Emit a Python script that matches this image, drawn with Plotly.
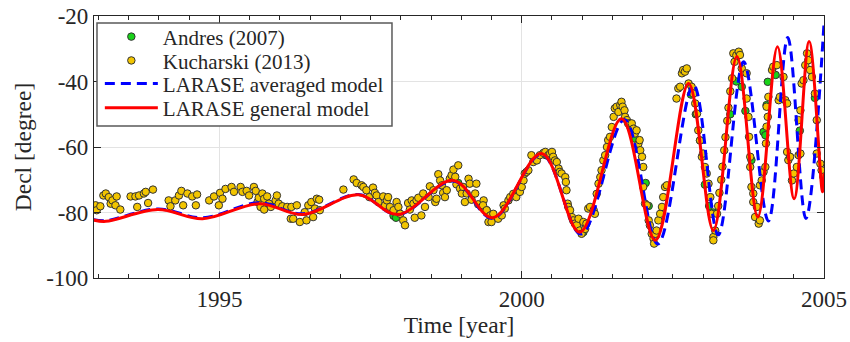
import plotly.graph_objects as go

# ---------------- data ----------------
# LARASE general model (red) - key points (year, Decl)
gen_t = [1992.92, 1993.12, 1993.98, 1994.72, 1995.66, 1996.38, 1997.30, 1997.95,
         1998.87, 1999.52, 2000.33, 2000.96, 2001.65, 2002.21, 2002.76, 2003.17,
         2003.56, 2003.905, 2004.23, 2004.506, 2004.754, 2004.975, 2005.0]
gen_d = [-82.3, -82.7, -79.1, -81.9, -77.3, -80.6, -74.6, -80.6,
         -70.2, -81.6, -62.0, -86.0, -51.4, -88.5, -40.6, -85.5,
         -32.4, -81.4, -29.4, -75.8, -27.8, -73.7, -68.0]

# LARASE averaged model (blue dashed) - key points (year, Decl)
avg_t = [1992.92, 1993.12, 1993.98, 1994.72, 1995.66, 1996.38, 1997.30, 1997.95,
         1998.87, 1999.52, 2000.33, 2000.98, 2001.70, 2002.25, 2002.84, 2003.25,
         2003.67, 2004.08, 2004.40, 2004.70, 2005.0]
avg_d = [-82.2, -82.5, -78.9, -81.6, -77.0, -80.4, -74.5, -80.7,
         -70.4, -81.8, -62.2, -86.6, -51.6, -89.6, -41.0, -86.8,
         -34.0, -82.6, -26.6, -81.8, -22.3]

# Andres (2007) observations
andres_t = [1997.88, 1997.92, 1998.95, 1999.55, 2000.40, 2000.92, 2001.02, 2001.80,
            2001.88, 2002.05, 2002.10, 2002.22, 2002.80, 2002.88, 2002.95, 2003.03,
            2003.10, 2003.17, 2003.45, 2003.55, 2003.64, 2003.70, 2003.80, 2004.00,
            2004.03, 2004.05, 2004.07, 2004.20, 2004.60, 2004.85]
andres_d = [-81.0, -81.6, -71.0, -81.5, -62.5, -84.5, -86.0, -54.0,
            -57.5, -71.0, -78.0, -87.0, -44.0, -50.0, -58.0, -71.5,
            -78.0, -80.0, -50.0, -40.0, -41.6, -49.0, -64.0, -55.4,
            -56.4, -47.2, -40.1, -38.0, -55.0, -45.0]

# Kucharski (2013) observations
kuch_t = [
    1992.95, 1992.97, 1993.03, 1993.08, 1993.12, 1993.17, 1993.20, 1993.23, 1993.28, 1993.30,
    1993.36, 1993.53, 1993.61, 1993.64, 1993.67, 1993.75, 1993.78, 1993.82, 1993.90, 1994.16,
    1994.19, 1994.27, 1994.33, 1994.37, 1994.40, 1994.47, 1994.55, 1994.61, 1994.63, 1994.83,
    1994.91, 1994.99, 1995.01, 1995.05, 1995.10, 1995.20, 1995.24, 1995.35, 1995.38, 1995.45,
    1995.49, 1995.57, 1995.60, 1995.63, 1995.65, 1995.68, 1995.71, 1995.74, 1995.74, 1995.79,
    1995.82, 1995.85, 1995.93, 1995.95, 1995.98, 1996.04, 1996.12, 1996.18,
    1996.19, 1996.22, 1996.28, 1996.33, 1996.41, 1996.44, 1996.47, 1996.52, 1996.55, 1996.58,
    1996.61, 1996.65, 1996.66, 1997.05, 1997.22, 1997.27, 1997.35, 1997.38, 1997.43, 1997.48,
    1997.54, 1997.57, 1997.60, 1997.63, 1997.71, 1997.74, 1997.77, 1997.79, 1997.82, 1997.88,
    1997.93, 1997.96, 1997.99, 1998.04, 1998.07, 1998.12, 1998.15, 1998.18, 1998.21, 1998.23,
    1998.26, 1998.29, 1998.34, 1998.37, 1998.40, 1998.46, 1998.48, 1998.54, 1998.57, 1998.59,
    1998.62, 1998.65, 1998.68, 1998.70, 1998.73, 1998.76, 1998.81, 1998.84, 1998.87, 1998.90,
    1998.92, 1998.95, 1998.98, 1999.01, 1999.03, 1999.06, 1999.09, 1999.12, 1999.14, 1999.17,
    1999.23, 1999.25, 1999.28, 1999.34, 1999.37, 1999.42, 1999.45,
    1999.36, 1999.42, 1999.48, 1999.50, 1999.53, 1999.61, 1999.67, 1999.70, 1999.72, 1999.78,
    1999.81, 1999.86, 1999.91, 1999.94, 1999.97, 2000.00, 2000.03, 2000.05, 2000.08, 2000.11,
    2000.16, 2000.19, 2000.25, 2000.30, 2000.36, 2000.39, 2000.44, 2000.47, 2000.50, 2000.52,
    2000.55, 2000.58, 2000.61, 2000.63, 2000.66, 2000.72, 2000.73, 2000.74, 2000.76, 2000.77,
    2000.80, 2000.83, 2000.85, 2000.88, 2000.91, 2000.94, 2000.96, 2000.99, 2001.02, 2001.05,
    2001.07, 2001.10, 2001.13, 2001.19, 2001.21, 2001.24, 2001.27, 2001.30, 2001.32, 2001.35,
    2001.38, 2001.41, 2001.43, 2001.46, 2001.49, 2001.52, 2001.54, 2001.57, 2001.60, 2001.63,
    2001.65, 2001.67, 2001.70, 2001.71, 2001.74, 2001.76, 2001.79, 2001.82, 2001.85, 2001.87,
    2001.90, 2001.93, 2001.95, 2001.96, 2001.99, 2002.01, 2002.01, 2002.04, 2002.07, 2002.10,
    2002.12, 2002.15, 2002.18, 2002.19, 2002.21, 2002.23, 2002.26, 2002.29, 2002.32, 2002.34,
    2002.37, 2002.40, 2002.56, 2002.59, 2002.62, 2002.65, 2002.67, 2002.70, 2002.73, 2002.76,
    2002.81, 2002.84, 2002.87, 2002.90, 2002.92, 2002.95, 2002.98, 2003.00, 2003.03, 2003.06,
    2003.09, 2003.12, 2003.14, 2003.17, 2003.17, 2003.20, 2003.23, 2003.25, 2003.27, 2003.30,
    2003.32, 2003.35, 2003.37, 2003.40, 2003.42, 2003.45, 2003.48, 2003.50, 2003.52, 2003.55,
    2003.59, 2003.61, 2003.64, 2003.72, 2003.72, 2003.75, 2003.76, 2003.78, 2003.78, 2003.80,
    2003.83, 2003.83, 2003.86, 2003.89, 2003.92, 2003.94, 2003.94, 2003.97, 2004.00, 2004.03,
    2004.04, 2004.05, 2004.07, 2004.05, 2004.08, 2004.14, 2004.16, 2004.22, 2004.25, 2004.27,
    2004.33, 2004.36, 2004.39, 2004.39, 2004.41, 2004.44, 2004.47, 2004.50, 2004.55, 2004.58,
    2004.61, 2004.58, 2004.61, 2004.63, 2004.66, 2004.69, 2004.72, 2004.74, 2004.77, 2004.80,
    2004.85, 2004.88, 2004.88, 2004.94, 2004.96, 2004.99]
kuch_d = [
    -77.8, -79.3, -78.1, -74.8, -74.2, -75.3, -77.3, -76.3, -77.8, -75.1,
    -79.1, -75.1, -75.1, -78.3, -74.8, -74.2, -73.7, -77.1, -73.0, -76.3,
    -78.1, -76.3, -74.8, -73.4, -77.8, -74.2, -75.1, -77.8, -74.5, -76.3,
    -75.1, -77.8, -74.0, -75.8, -72.8, -72.2, -73.7, -72.2, -73.7, -73.4,
    -74.8, -72.2, -73.4, -76.8, -75.5, -78.3, -74.2, -75.8, -79.1, -75.1,
    -77.3, -78.3, -76.3, -74.8, -77.3, -78.1, -78.3, -81.9,
    -78.3, -81.9, -77.8, -82.9, -79.9, -82.4, -77.8, -76.8, -81.4, -78.8,
    -75.8, -76.1, -79.3, -73.0, -69.9, -71.0, -71.7, -72.2, -73.2, -75.3,
    -72.4, -74.0, -74.8, -76.8, -75.1, -77.8, -76.3, -75.3, -78.3, -79.3,
    -76.8, -78.3, -80.4, -82.4, -83.9, -77.1, -79.1, -76.3, -77.3, -81.6,
    -76.3, -75.5, -80.9, -74.2, -78.3, -75.3, -72.0, -73.2, -76.8, -75.8,
    -68.3, -70.2, -71.7, -74.0, -75.3, -73.2, -69.7, -68.6, -66.9, -69.1,
    -71.4, -65.6, -72.7, -74.2, -72.2, -76.8, -74.2, -69.7, -71.2, -76.1,
    -74.2, -71.2, -77.5, -78.3, -76.3, -79.3, -82.9,
    -77.8, -79.3, -80.9, -82.9, -80.4, -81.9, -80.9, -77.8, -78.8, -76.3,
    -75.3, -74.3, -75.3, -73.2, -73.7, -72.2, -70.2, -68.1, -67.6, -67.1,
    -62.5, -64.6, -64.1, -62.5, -61.8, -61.5, -62.5, -62.0, -61.5, -63.0,
    -64.1, -64.6, -66.6, -67.6, -68.1, -69.2, -70.7, -73.2, -77.3, -78.3,
    -79.3, -81.4, -82.4, -83.4, -83.9, -81.9, -85.5, -86.5, -82.9, -85.0,
    -83.4, -78.8, -78.3, -79.3, -80.4, -74.3, -71.2, -69.2, -67.1, -64.1,
    -62.5, -60.0, -57.9, -56.9, -53.9, -50.8, -48.2, -47.7, -49.3, -47.2,
    -46.2, -47.7, -48.8, -50.8, -51.8, -52.8, -52.8, -52.8, -54.4, -55.9,
    -54.9, -59.0, -57.9, -61.0, -63.0, -66.1, -72.2, -77.3, -77.8, -82.4,
    -83.9, -86.5, -88.0, -89.5, -86.5, -85.5, -82.4, -80.4, -78.3, -75.3,
    -72.2, -71.7, -45.2, -42.1, -41.6, -37.5, -36.5, -37.0, -36.0, -40.6,
    -41.6, -43.7, -46.7, -49.8, -54.9, -58.0, -63.0, -62.0, -66.1, -68.1,
    -71.2, -75.3, -80.4, -87.5, -88.5, -85.5, -80.4, -78.0, -74.0, -70.0,
    -66.0, -61.0, -57.0, -52.0, -48.0, -43.0, -39.0, -31.4, -34.0, -32.0,
    -30.9, -31.9, -36.0, -37.5, -45.2, -50.8, -56.9, -63.0, -66.1, -72.2,
    -74.2, -76.8, -81.4, -78.3, -83.4, -82.4, -71.7, -70.2, -67.6, -66.1,
    -58.9, -53.8, -50.8, -47.7, -44.7, -36.5, -35.5, -35.0, -45.7, -44.7,
    -38.6, -45.7, -46.7, -61.5, -64.0, -63.0, -70.2, -68.1, -66.1, -62.5,
    -62.0, -51.8, -48.8, -40.6, -39.6, -35.0, -31.4, -33.5, -36.5, -38.6,
    -43.7, -51.8, -62.0, -65.1, -67.1, -69.1]

# axis ticks
x_ticks = [1995, 2000, 2005]
x_tick_labels = ["1995", "2000", "2005"]
y_ticks = [-100, -80, -60, -40, -20]
y_tick_labels = ["-100", "-80", "-60", "-40", "-20"]

# ---------------- figure ----------------
FONT = "Times New Roman"
TXT = "#262626"
LEG_FONT = dict(family=FONT, size=21, color=TXT)

fig = go.Figure()
fig.add_trace(go.Scatter(
    x=andres_t, y=andres_d, mode="markers", name="Andres (2007)", legend="legend",
    marker=dict(size=7.5, color="#19D219", line=dict(color="#333333", width=1))))
fig.add_trace(go.Scatter(
    x=kuch_t, y=kuch_d, mode="markers", name="Kucharski (2013)", legend="legend2",
    marker=dict(size=7.5, color="#F2C500", line=dict(color="#333333", width=1))))
fig.add_trace(go.Scatter(
    x=avg_t, y=avg_d, mode="lines", name="LARASE averaged model", legend="legend3",
    line=dict(color="#0000FF", width=3, dash="10px,6px", shape="spline", smoothing=1.0)))
fig.add_trace(go.Scatter(
    x=gen_t, y=gen_d, mode="lines", name="LARASE general model", legend="legend4",
    line=dict(color="#FF0000", width=3, shape="spline", smoothing=1.0)))


def leg(ypos):
    return dict(x=0.008, y=ypos, xanchor="left", yanchor="middle",
                bgcolor="rgba(0,0,0,0)", borderwidth=0,
                font=LEG_FONT, itemwidth=53)


fig.update_layout(
    width=850, height=342,
    margin=dict(l=94, r=26, t=16, b=64, autoexpand=False),
    paper_bgcolor="white", plot_bgcolor="white",
    font=dict(family=FONT, size=23, color=TXT),
    showlegend=True,
    legend=leg(0.920), legend2=leg(0.829), legend3=leg(0.741), legend4=leg(0.648),
    shapes=[dict(type="rect", xref="paper", yref="paper",
                 x0=0.0041, x1=0.4082, y0=0.580, y1=0.9733, layer="above",
                 fillcolor="white", line=dict(color="#5A5A5A", width=1.5))],
)
fig.update_xaxes(
    range=[1992.925, 2005.0], tickvals=x_ticks, ticktext=x_tick_labels,
    ticks="inside", ticklen=7, tickwidth=1, tickcolor=TXT, automargin=False,
    showline=True, linecolor=TXT, linewidth=1.2, mirror="ticks",
    showgrid=True, gridcolor="#E3E3E3", gridwidth=1, zeroline=False,
    minor=dict(dtick=0.5, tick0=1995, ticks="inside", ticklen=4, tickcolor=TXT, showgrid=False),
    tickfont=dict(family=FONT, size=23, color=TXT),
    title=dict(text="Time [year]", font=dict(family=FONT, size=23.5, color=TXT), standoff=5),
)
fig.update_yaxes(
    range=[-100, -20], tickvals=y_ticks, ticktext=y_tick_labels,
    ticks="inside", ticklen=7, tickwidth=1, tickcolor=TXT, automargin=False,
    showline=True, linecolor=TXT, linewidth=1.2, mirror="ticks",
    showgrid=True, gridcolor="#E3E3E3", gridwidth=1, zeroline=False,
    tickfont=dict(family=FONT, size=23, color=TXT),
    title=dict(text="Decl [degree]", font=dict(family=FONT, size=23.5, color=TXT), standoff=7),
)

fig.write_html("out.html")
